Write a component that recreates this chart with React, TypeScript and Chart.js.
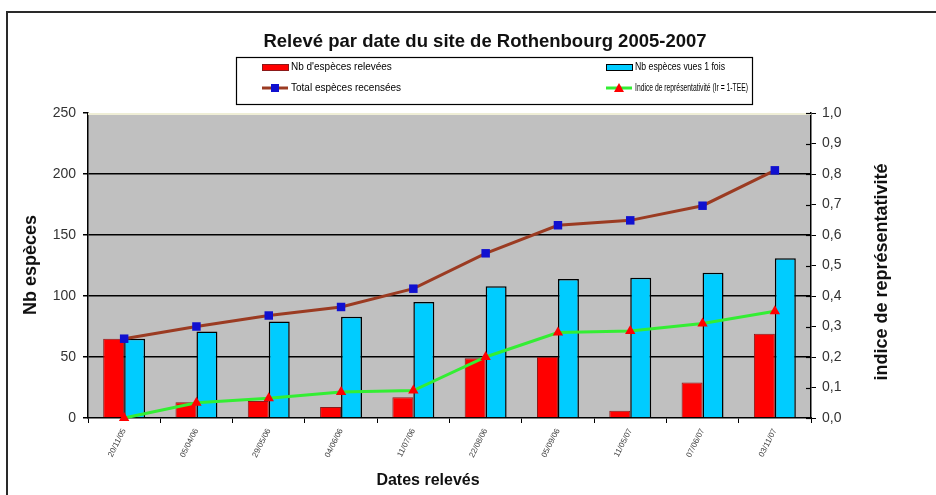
import React, { useEffect, useRef } from "react";
import Chart from "chart.js/auto";

const dates = ["20/11/05", "05/04/06", "29/05/06", "04/06/06", "11/07/06", "22/08/06", "05/09/06", "11/05/07", "07/06/07", "03/11/07"];
const especesRelevees = [65, 13, 14, 9, 17, 49, 50, 6, 29, 69];
const especesVues1Fois = [65, 71, 79, 83, 95, 108, 114, 115, 119, 131];
const totalEspeces = [65, 75, 84, 91, 106, 135, 158, 162, 174, 203];
const indiceRepresentativite = [0, 0.05, 0.065, 0.085, 0.09, 0.2, 0.28, 0.285, 0.31, 0.35];

const titleText = "Relevé par date du site de Rothenbourg 2005-2007";
const leftTitle = "Nb espèces";
const rightTitle = "indice de représentativité";
const xTitle = "Dates relevés";

const FONT = "'Liberation Sans', Arial, sans-serif";

const decorPlugin = {
  id: "decor",
  beforeDraw(chart: any) {
    const { ctx, chartArea } = chart;
    ctx.save();
    ctx.fillStyle = "#ffffff";
    ctx.fillRect(0, 0, chart.width, chart.height);
    ctx.fillStyle = "#c0c0c0";
    ctx.fillRect(chartArea.left, chartArea.top, chartArea.right - chartArea.left, chartArea.bottom - chartArea.top);
    ctx.strokeStyle = "#2a2a2a";
    ctx.lineWidth = 2;
    ctx.strokeRect(7, 12, 2000, 2000);
    ctx.restore();
  },
  afterDraw(chart: any) {
    const { ctx, chartArea } = chart;
    ctx.save();
    // top edge of plot area
    ctx.strokeStyle = "#efeed6";
    ctx.lineWidth = 2;
    ctx.beginPath();
    ctx.moveTo(chartArea.left, chartArea.top + 1);
    ctx.lineTo(chartArea.right, chartArea.top + 1);
    ctx.stroke();

    // inward ticks of right axis
    const y1 = chart.scales.y1;
    ctx.strokeStyle = "#000";
    ctx.lineWidth = 1.2;
    y1.ticks.forEach((t: any) => {
      const py = Math.round(y1.getPixelForValue(t.value)) + 0.5;
      ctx.beginPath();
      ctx.moveTo(chartArea.right - 5, py);
      ctx.lineTo(chartArea.right, py);
      ctx.stroke();
    });

    // title
    ctx.fillStyle = "#111";
    ctx.textAlign = "center";
    ctx.textBaseline = "middle";
    ctx.font = `bold 18.5px ${FONT}`;
    ctx.fillText(titleText, 485, 42);

    // axis titles
    ctx.font = `bold 18px ${FONT}`;
    ctx.save();
    ctx.translate(31, 265);
    ctx.rotate(-Math.PI / 2);
    ctx.fillText(leftTitle, 0, 0);
    ctx.restore();
    ctx.save();
    ctx.translate(882, 272);
    ctx.rotate(-Math.PI / 2);
    ctx.fillText(rightTitle, 0, 0);
    ctx.restore();
    ctx.font = `bold 16px ${FONT}`;
    ctx.fillText(xTitle, 428, 481);

    // legend
    const bx = 236, by = 57, bw = 516, bh = 47;
    ctx.fillStyle = "#fff";
    ctx.fillRect(bx, by, bw, bh);
    ctx.strokeStyle = "#000";
    ctx.lineWidth = 1.2;
    ctx.strokeRect(bx + 0.5, by + 0.5, bw, bh);
    const ds = chart.data.datasets;
    const slots = [
      { x: 262, y: 67, w: 110 },
      { x: 606, y: 67, w: 90 },
      { x: 262, y: 88, w: 125 },
      { x: 606, y: 88, w: 113 },
    ];
    ds.forEach((d: any, i: number) => {
      const s = slots[i];
      if (d.type === "bar") {
        ctx.fillStyle = d.backgroundColor;
        ctx.fillRect(s.x, s.y - 3, 26, 6);
        ctx.strokeStyle = d.borderColor;
        ctx.lineWidth = 1;
        ctx.strokeRect(s.x + 0.5, s.y - 3 + 0.5, 26, 6);
      } else {
        ctx.strokeStyle = d.borderColor;
        ctx.lineWidth = 3;
        ctx.beginPath();
        ctx.moveTo(s.x, s.y);
        ctx.lineTo(s.x + 26, s.y);
        ctx.stroke();
        ctx.fillStyle = d.pointBackgroundColor;
        const cx = s.x + 13;
        if (d.pointStyle === "rect") {
          ctx.fillRect(cx - 4, s.y - 4, 8, 8);
        } else {
          ctx.beginPath();
          ctx.moveTo(cx, s.y - 5);
          ctx.lineTo(cx + 5, s.y + 4);
          ctx.lineTo(cx - 5, s.y + 4);
          ctx.closePath();
          ctx.fill();
        }
      }
      ctx.fillStyle = "#000";
      ctx.textAlign = "left";
      ctx.textBaseline = "middle";
      ctx.font = `10px ${FONT}`;
      ctx.fillText(d.label, s.x + 29, s.y, s.w);
    });
    ctx.restore();
  },
};

export default function App() {
  const ref = useRef<HTMLCanvasElement>(null);
  useEffect(() => {
    if (!ref.current) return;
    const chart = new Chart(ref.current, {
      type: "bar",
      data: {
        labels: dates,
        datasets: [
          {
            type: "bar",
            label: "Nb d'espèces relevées",
            data: especesRelevees,
            backgroundColor: "#ff0000",
            borderColor: "#8b1a1a",
            borderWidth: 1,
            categoryPercentage: 0.58,
            barPercentage: 1.0,
            yAxisID: "y",
            order: 2,
          },
          {
            type: "bar",
            label: "Nb espèces vues 1 fois",
            data: especesVues1Fois,
            backgroundColor: "#00ccff",
            borderColor: "#000000",
            borderWidth: 1.5,
            categoryPercentage: 0.58,
            barPercentage: 1.0,
            yAxisID: "y",
            order: 2,
          },
          {
            type: "line",
            label: "Total espèces recensées",
            data: totalEspeces,
            borderColor: "#9b3b22",
            borderWidth: 3,
            pointStyle: "rect",
            pointRadius: 6,
            pointBackgroundColor: "#1010d0",
            pointBorderColor: "#1010d0",
            pointBorderWidth: 0,
            tension: 0,
            yAxisID: "y",
            order: 1,
            clip: false,
          },
          {
            type: "line",
            label: "Indice de représentativité (Ir = 1-TEE)",
            data: indiceRepresentativite,
            borderColor: "#33ee33",
            borderWidth: 3,
            pointStyle: "triangle",
            pointRadius: 6,
            pointBackgroundColor: "#ff0000",
            pointBorderColor: "#ff0000",
            pointBorderWidth: 0,
            tension: 0,
            yAxisID: "y1",
            order: 0,
            clip: false,
          },
        ] as any,
      },
      options: {
        animation: false,
        responsive: false,
        layout: { padding: { top: 113, left: 0, right: 0, bottom: 0 } },
        plugins: {
          legend: { display: false },
          title: { display: false },
          tooltip: { enabled: false },
        },
        scales: {
          x: {
            offset: true,
            grid: { display: true, drawOnChartArea: false, offset: true, tickLength: 5, color: "#000", tickColor: "#000" },
            border: { display: true, color: "#000", width: 1.5 },
            ticks: { font: { family: FONT, size: 8 }, color: "#444", minRotation: 63, maxRotation: 63, padding: 4, autoSkip: false },
            afterFit: (s: any) => { s.height = 77; },
          },
          y: {
            position: "left",
            min: 0,
            max: 250,
            ticks: { stepSize: 50, font: { family: FONT, size: 14 }, color: "#333", padding: 7 },
            grid: {
              color: (c: any) => (c.tick && c.tick.value > 0 && c.tick.value < 250 ? "#000" : "rgba(0,0,0,0)"),
              lineWidth: 1.5,
              tickLength: 5,
              tickColor: "#000",
            },
            border: { display: true, color: "#000", width: 1.5 },
            afterFit: (s: any) => { s.width = 88; },
          },
          y1: {
            position: "right",
            min: 0,
            max: 1,
            ticks: {
              stepSize: 0.1,
              font: { family: FONT, size: 14 },
              color: "#333",
              padding: 6,
              callback: (v: any) => Number(v).toFixed(1).replace(".", ","),
            },
            grid: { drawOnChartArea: false, tickLength: 5, color: "#000", tickColor: "#000" },
            border: { display: true, color: "#000", width: 1.5 },
            afterFit: (s: any) => { s.width = 125; },
          },
        },
      } as any,
      plugins: [decorPlugin],
    });
    return () => chart.destroy();
  }, []);
  return (
    <div style={{ position: "absolute", left: 0, top: 0, width: 936, height: 495 }}>
      <canvas ref={ref} width={936} height={495} style={{ display: "block" }} />
    </div>
  );
}
